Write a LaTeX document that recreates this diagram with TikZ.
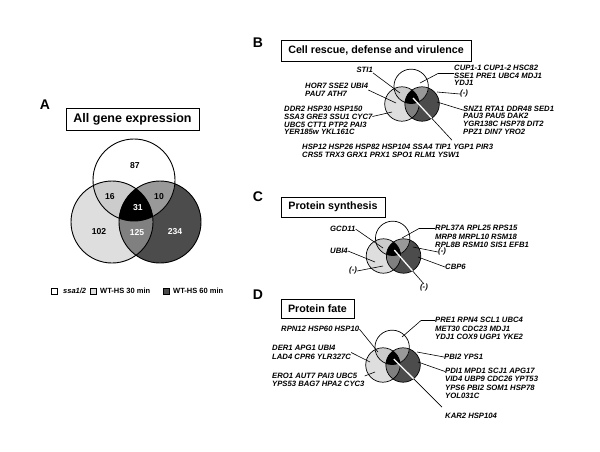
\documentclass[tikz,border=0pt]{standalone}
\usepackage{fontspec}
\setmainfont{Liberation Sans}
\usetikzlibrary{calc}
\definecolor{cL}{gray}{0.87}
\definecolor{cTL}{gray}{0.80}
\definecolor{cTR}{gray}{0.60}
\definecolor{cLR}{gray}{0.50}
\definecolor{cR}{gray}{0.30}
\newcommand\myvenn[4]{%
 \begin{scope}[shift={(#1,#2)},scale=#3]
  \fill[cL] (-24,0) circle (41);
  \fill[cR] (24,0) circle (41);
  \begin{scope}\clip (24,0) circle (41); \fill[cLR] (-24,0) circle (41);\end{scope}
  \fill[white] (-2,-42) circle (41);
  \begin{scope}\clip (-2,-42) circle (41); \fill[cTL] (-24,0) circle (41); \fill[cTR] (24,0) circle (41); \clip (-24,0) circle (41); \fill[black] (24,0) circle (41);\end{scope}
  \draw[line width=#4] (-2,-42) circle (41) (-24,0) circle (41) (24,0) circle (41);
 \end{scope}}
\tikzset{
 lblB/.style={font=\fontsize{7.7}{7.7}\selectfont\bfseries\itshape, inner sep=0pt, align=left},
 lbl/.style={font=\fontsize{7.7}{8.4}\selectfont\bfseries\itshape, inner sep=0pt, align=left},
 lead/.style={line width=0.6pt},
 wlead/.style={white, line width=1.3pt},
 ttl/.style={draw, line width=0.8pt, font=\fontsize{10.7}{12}\selectfont\bfseries, inner sep=0pt},
 plet/.style={font=\fontsize{14}{16}\selectfont\bfseries, inner sep=0pt},
 num/.style={font=\fontsize{8.6}{10}\selectfont\bfseries, inner sep=0pt},
 leg/.style={font=\fontsize{7.5}{9}\selectfont\bfseries, inner sep=0pt},
 legbox/.style={draw, line width=0.5pt, minimum size=5.5pt, inner sep=0pt},
}
\begin{document}
\begin{tikzpicture}[x=1pt,y=-1pt]
\useasboundingbox (0,0) rectangle (600,451);
\fill[white] (0,0) rectangle (600,451);
% ---------------- Panel A
\node[plet] (la) at (45,105) {A};
\node[ttl, font=\fontsize{12.5}{14}\selectfont\bfseries, minimum width=133pt, minimum height=22pt] (ta) at (132.5,119) {All gene expression};
\myvenn{136}{222}{1}{0.9pt}
\node[num] (n87) at (135,166) {87};
\node[num] (n16) at (110,197) {16};
\node[num, white] (n31) at (138,208) {31};
\node[num] (n10) at (159,197) {10};
\node[num] (n102) at (99,232) {102};
\node[num, white] (n125) at (137,233) {125};
\node[num, white] (n234) at (175,232) {234};
\node[legbox, fill=white] (lg1) at (54,291) {};
\node[leg, anchor=west, font=\fontsize{7.5}{9}\selectfont\bfseries\itshape] (lt1) at (63,291) {ssa1/2};
\node[legbox, fill=cL] (lg2) at (93,291) {};
\node[leg, anchor=west] (lt2) at (100,291) {WT-HS 30 min};
\node[legbox, fill=cR] (lg3) at (166,291) {};
\node[leg, anchor=west] (lt3) at (173,291) {WT-HS 60 min};
% ---------------- Panel B
\node[plet] (lb) at (258,43) {B};
\node[ttl, minimum width=190pt, minimum height=21pt] (tb) at (376,50.5) {Cell rescue, defense and virulence};
\myvenn{412}{104}{0.42}{0.7pt}
\coordinate (Bsti) at (400,93);
\coordinate (Bhor) at (396,103);
\coordinate (Bddr) at (392,112);
\coordinate (Bcup) at (420,83);
\coordinate (Bmin) at (437,92);
\coordinate (Bsnz) at (437,102);
\coordinate (Bctr) at (413,98);
\node[lblB, anchor=east] (sti1) at (373,70) {STI1};
\node[lblB, anchor=west] (hor7) at (305,90) {HOR7 SSE2 UBI4\\PAU7 ATH7};
\node[lblB, anchor=west] (ddr2) at (284,120.5) {DDR2 HSP30 HSP150\\SSA3 GRE3 SSU1 CYC7\\UBC5 CTT1 PTP2 PAI3\\YER185w YKL161C};
\node[lblB, anchor=west] (cup1) at (454,75.5) {CUP1-1 CUP1-2 HSC82\\SSE1 PRE1 UBC4 MDJ1\\YDJ1};
\node[lblB, anchor=west] (bmin) at (460,94) {(-)};
\node[lblB, anchor=west] (snz1) at (463,120) {SNZ1 RTA1 DDR48 SED1\\PAU3 PAU5 DAK2\\YGR138C HSP78 DIT2\\PPZ1 DIN7 YRO2};
\node[lblB, anchor=west] (hsp12) at (302,151) {HSP12 HSP26 HSP82 HSP104 SSA4 TIP1 YGP1 PIR3\\CRS5 TRX3 GRX1 PRX1 SPO1 RLM1 YSW1};
\draw[lead] (sti1.south east) -- (Bsti);
\draw[lead] (hor7.east) -- (Bhor);
\draw[lead] ([yshift=4pt]ddr2.east) -- (Bddr);
\draw[lead] ([yshift=2pt]cup1.west) -- ++(-16,0) -- (Bcup);
\draw[lead] (bmin.west) -- (Bmin);
\draw[lead] ([yshift=10pt]snz1.west) -- (Bsnz);
\draw[lead] ([xshift=150pt,yshift=4pt]hsp12.north west) -- (Bctr);
\begin{scope}\clip (422.08,104) circle (17.22);
\draw[wlead] ([xshift=150pt,yshift=4pt]hsp12.north west) -- (Bctr);
\end{scope}
% ---------------- Panel C
\node[plet] (lc) at (258,197) {C};
\node[ttl, minimum width=104pt, minimum height=20pt] (tc) at (333,207) {Protein synthesis};
\myvenn{393.5}{256}{0.42}{0.7pt}
\coordinate (Cgcd) at (383,248);
\coordinate (Cubi) at (375,262);
\coordinate (Cm1) at (383,266);
\coordinate (Crpl) at (402,238);
\coordinate (Cm2) at (413,247);
\coordinate (Ccbp) at (418,257);
\coordinate (Cctr) at (394.3,250);
\node[lbl, anchor=west] (gcd11) at (330,229) {GCD11};
\node[lbl, anchor=west] (ubi4c) at (330,251) {UBI4};
\node[lbl, anchor=west] (cm1) at (349,271) {(-)};
\node[lbl, anchor=west] (rpl) at (435,236.5) {RPL37A RPL25 RPS15\\MRP8 MRPL10 RSM18\\RPL8B RSM10 SIS1 EFB1};
\node[lbl, anchor=west] (cm2) at (438,252) {(-)};
\node[lbl, anchor=west] (cbp6) at (445,267) {CBP6};
\node[lbl, anchor=north] (cm3) at (424,284) {(-)};
\draw[lead] (gcd11.east) -- (Cgcd);
\draw[lead] (ubi4c.east) -- (Cubi);
\draw[lead] (cm1.east) -- (Cm1);
\draw[lead] ([yshift=8pt]rpl.west) -- ++(-16,0) -- (Crpl);
\draw[lead] (cm2.west) -- (Cm2);
\draw[lead] (cbp6.west) -- (Ccbp);
\draw[lead] (cm3.north) -- (Cctr);
\begin{scope}\clip (403.58,256) circle (17.22);
\draw[wlead] (cm3.north) -- (Cctr);
\end{scope}
% ---------------- Panel D
\node[plet] (ld) at (258,295) {D};
\node[ttl, minimum width=73pt, minimum height=19pt] (td) at (317.5,308.5) {Protein fate};
\myvenn{393}{365}{0.42}{0.7pt}
\coordinate (Drpn) at (378,352);
\coordinate (Dder) at (370,362);
\coordinate (Dero) at (375,372);
\coordinate (Dpre) at (402,337);
\coordinate (Dpbi) at (417,352);
\coordinate (Dpdi) at (418,362);
\coordinate (Dctr) at (393.8,359);
\node[lbl, anchor=west] (rpn12) at (281,329) {RPN12 HSP60 HSP10};
\node[lbl, anchor=west] (der1) at (272,352.5) {DER1 APG1 UBI4\\LAD4 CPR6 YLR327C};
\node[lbl, anchor=west] (ero1) at (272,380) {ERO1 AUT7 PAI3 UBC5\\YPS53 BAG7 HPA2 CYC3};
\node[lbl, anchor=west] (pre1) at (435,328.5) {PRE1 RPN4 SCL1 UBC4\\MET30 CDC23 MDJ1\\YDJ1 COX9 UGP1 YKE2};
\node[lbl, anchor=west] (pbi2) at (444,357) {PBI2 YPS1};
\node[lbl, anchor=west] (pdi1) at (445,383.5) {PDI1 MPD1 SCJ1 APG17\\VID4 UBP9 CDC26 YPT53\\YPS6 PBI2 SOM1 HSP78\\YOL031C};
\node[lbl, anchor=west] (kar2) at (445,416) {KAR2 HSP104};
\draw[lead] (rpn12.east) -- (Drpn);
\draw[lead] (der1.east) -- (Dder);
\draw[lead] ([yshift=4pt]ero1.east) -- (Dero);
\draw[lead] ([yshift=8pt]pre1.west) -- ++(-14,0) -- (Dpre);
\draw[lead] (pbi2.west) -- (Dpbi);
\draw[lead] ([yshift=12pt]pdi1.west) -- (Dpdi);
\draw[lead] ([xshift=-3pt,yshift=6pt]kar2.north west) -- (Dctr);
\begin{scope}\clip (403.08,365) circle (17.22);
\draw[wlead] ([xshift=-3pt,yshift=6pt]kar2.north west) -- (Dctr);
\end{scope}
\end{tikzpicture}
\end{document}
